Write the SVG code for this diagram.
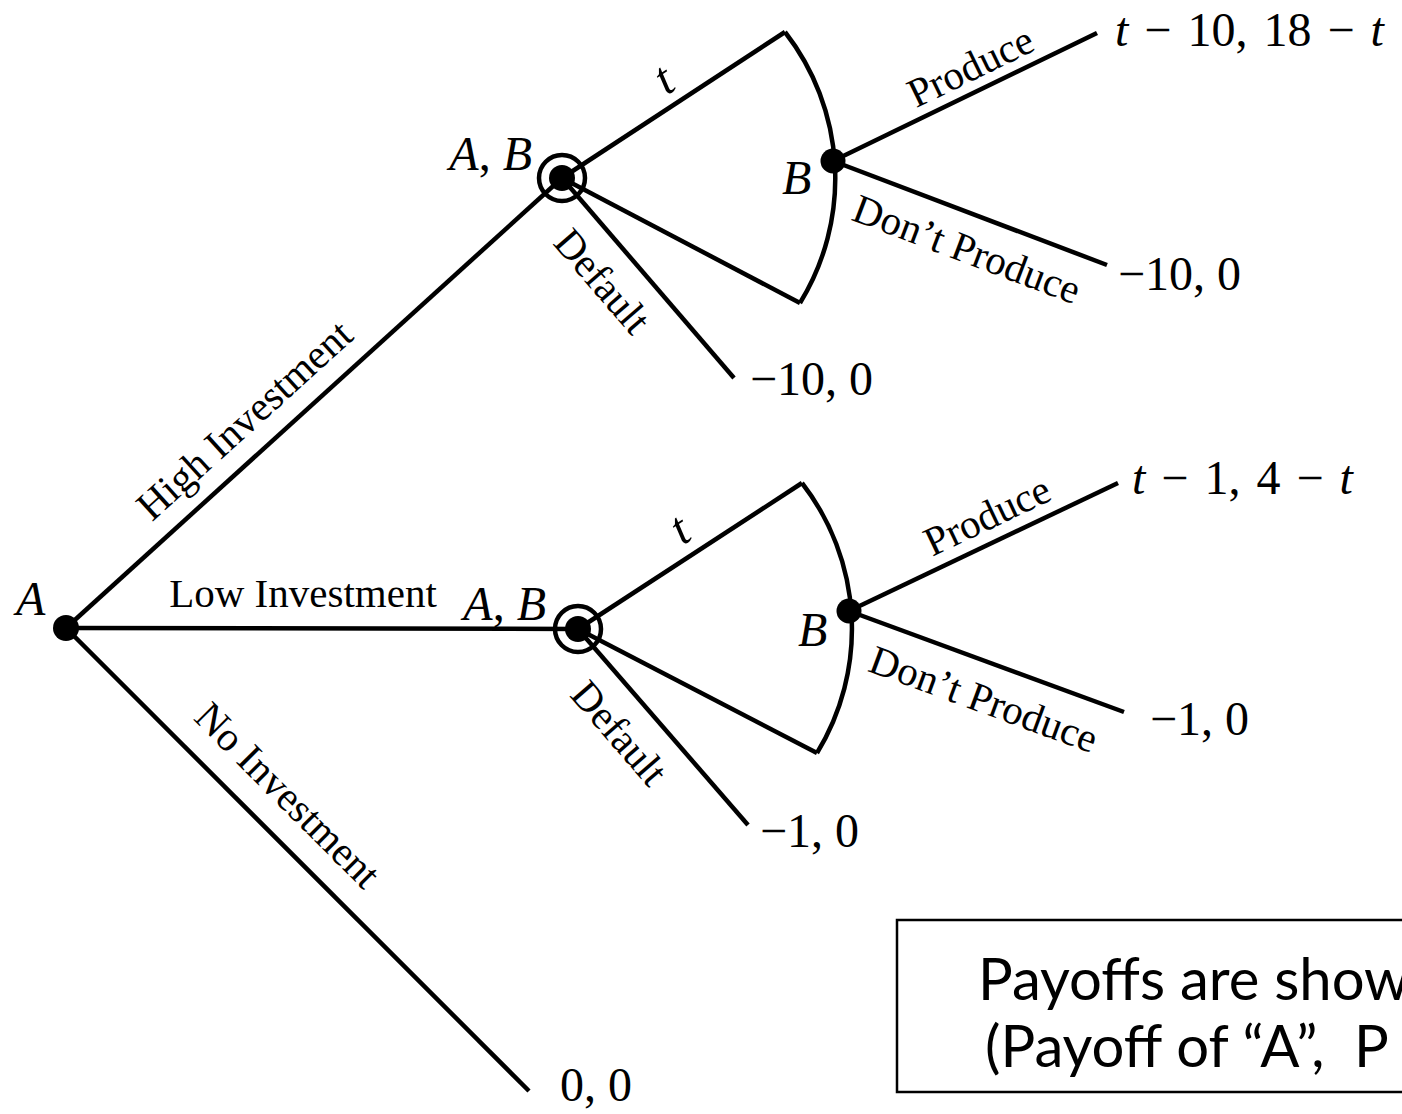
<svg xmlns="http://www.w3.org/2000/svg" width="1402" height="1114" viewBox="0 0 1402 1114">
<style>
.edge{stroke:#000;stroke-width:4.5;fill:none;stroke-linecap:butt}
.info{stroke:#000;stroke-width:4.5;fill:none}
.dot{fill:#000}
.ring{fill:none;stroke:#000;stroke-width:4.5}
.lbl{font-family:"Liberation Serif","Times New Roman",serif;font-size:41px;fill:#000}
.math{font-family:"Liberation Serif","Times New Roman",serif;font-size:48px;fill:#000}
.it{font-style:italic}
.note{font-family:Lato,"Liberation Sans",sans-serif;font-size:58px;fill:#000}
</style>
<rect width="1402" height="1114" fill="#fff"/>
<g id="connectors">
  <line class="edge" x1="66" y1="628" x2="562" y2="178"/>
  <line class="edge" x1="66" y1="628" x2="578" y2="629"/>
  <line class="edge" x1="66" y1="628" x2="529" y2="1091"/>
  <line class="edge" x1="562" y1="178" x2="785" y2="32"/>
  <line class="edge" x1="562" y1="178" x2="800" y2="303"/>
  <line class="edge" x1="562" y1="178" x2="734" y2="378"/>
  <path class="info" d="M785,32 A238,238 0 0 1 800,303"/>
  <line class="edge" x1="833" y1="161" x2="1097" y2="33"/>
  <line class="edge" x1="833" y1="161" x2="1107" y2="265"/>
  <line class="edge" x1="578" y1="629" x2="802" y2="483"/>
  <line class="edge" x1="578" y1="629" x2="817" y2="753"/>
  <line class="edge" x1="578" y1="629" x2="748" y2="825"/>
  <path class="info" d="M802,483 A238,238 0 0 1 817,753"/>
  <line class="edge" x1="849" y1="611" x2="1118" y2="483"/>
  <line class="edge" x1="849" y1="611" x2="1124" y2="712"/>
</g>
<g id="edge-labels">
  <text class="lbl" text-anchor="middle" transform="translate(267,445) rotate(-42.2)" y="-20">High Investment</text>
  <text class="lbl" text-anchor="middle" x="303" y="607">Low Investment</text>
  <text class="lbl" text-anchor="middle" transform="translate(260.5,822.5) rotate(45)" y="-25">No Investment</text>
  <text class="math it" text-anchor="middle" transform="translate(672,92) rotate(-33.2)">t</text>
  <text class="math it" text-anchor="middle" transform="translate(688,542) rotate(-33.2)">t</text>
  <text class="lbl" text-anchor="middle" transform="translate(592,290) rotate(49.3)">Default</text>
  <text class="lbl" text-anchor="middle" transform="translate(609,742) rotate(49.1)">Default</text>
  <text class="lbl" text-anchor="middle" transform="translate(976.5,79) rotate(-25.9)">Produce</text>
  <text class="lbl" text-anchor="middle" transform="translate(993,528) rotate(-25.4)">Produce</text>
  <text class="lbl" text-anchor="middle" transform="translate(962,262) rotate(20.8)">Don’t Produce</text>
  <text class="lbl" text-anchor="middle" transform="translate(979,712) rotate(20.2)">Don’t Produce</text>
</g>
<g id="nodeA">
  <circle class="dot" cx="66" cy="628" r="13"/>
  <text class="math it" x="16" y="615">A</text>
</g>
<g id="nodeAB-high">
  <circle class="ring" cx="562" cy="178" r="23"/>
  <circle class="dot" cx="562" cy="178" r="13"/>
  <text class="math it" text-anchor="end" x="532" y="170">A<tspan font-style="normal">,</tspan> B</text>
</g>
<g id="nodeB-high">
  <circle class="dot" cx="833" cy="161" r="12.5"/>
  <text class="math it" x="782" y="194">B</text>
</g>
<g id="nodeAB-low">
  <circle class="ring" cx="578" cy="629" r="23"/>
  <circle class="dot" cx="578" cy="629" r="13"/>
  <text class="math it" text-anchor="end" x="546" y="620">A<tspan font-style="normal">,</tspan> B</text>
</g>
<g id="nodeB-low">
  <circle class="dot" cx="849" cy="611" r="12.5"/>
  <text class="math it" x="798" y="646">B</text>
</g>
<g id="payoffs">
  <text class="math" x="1115" y="46" word-spacing="4"><tspan class="it">t</tspan> − 10, 18 − <tspan class="it">t</tspan></text>
  <text class="math" x="1118" y="290">−10, 0</text>
  <text class="math" x="750" y="395">−10, 0</text>
  <text class="math" x="1132" y="494" word-spacing="4"><tspan class="it">t</tspan> − 1, 4 − <tspan class="it">t</tspan></text>
  <text class="math" x="1150" y="735">−1, 0</text>
  <text class="math" x="760" y="847">−1, 0</text>
  <text class="math" x="560" y="1101">0, 0</text>
</g>
<g id="note">
  <rect x="897" y="920" width="600" height="172" fill="none" stroke="#000" stroke-width="2.5"/>
  <text class="note" x="978" y="1000">Payoffs are show</text>
  <text class="note" x="985" y="1067" xml:space="preserve">(Payoff of “A”,  P</text>
</g>
</svg>
